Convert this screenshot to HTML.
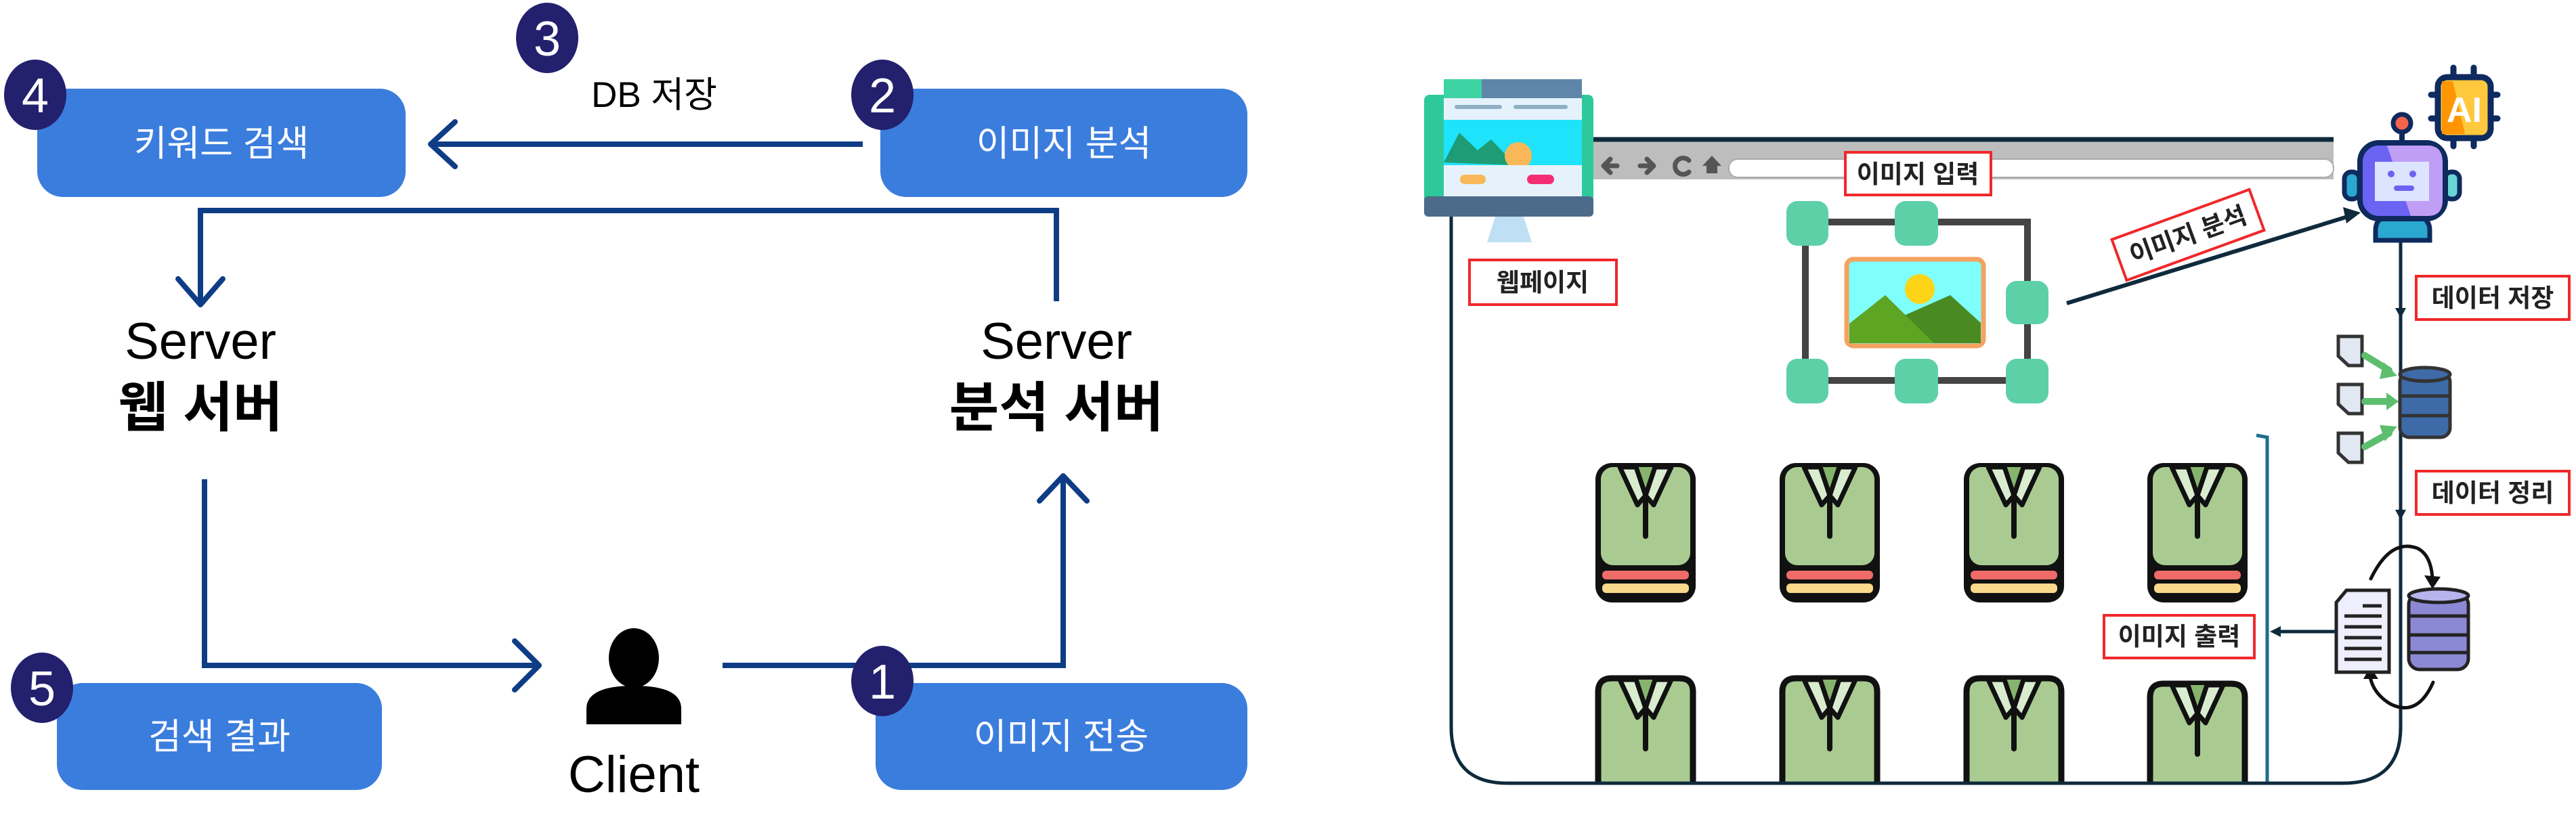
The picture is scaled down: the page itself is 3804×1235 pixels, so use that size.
<!DOCTYPE html>
<html><head><meta charset="utf-8">
<style>
html,body{margin:0;padding:0;background:#fff;}
svg{display:block;}
text{font-family:"Liberation Sans","Noto Sans CJK KR",sans-serif;}
</style></head>
<body>
<svg width="3804" height="1235" viewBox="0 0 3804 1235" xmlns="http://www.w3.org/2000/svg">

<!-- ========== LEFT DIAGRAM ========== -->
<g fill="none" stroke="#0F3D85" stroke-width="8">
  <polyline points="1274,213 640,213"/>
  <polyline points="672,180 636,213 672,246" stroke-linejoin="round" stroke-linecap="round"/>
  <polyline points="1560,445 1560,311 296,311 296,448"/>
  <polyline points="263,412 296,450 329,412" stroke-linejoin="round" stroke-linecap="round"/>
  <polyline points="302,708 302,983 794,983"/>
  <polyline points="760,947 796,983 760,1019" stroke-linejoin="round" stroke-linecap="round"/>
  <polyline points="1067,983 1570,983 1570,705"/>
  <polyline points="1535,740 1570,703 1605,740" stroke-linejoin="round" stroke-linecap="round"/>
</g>

<rect x="55" y="131" width="544" height="160" rx="38" fill="#3B7DDD"/>
<text x="327" y="230" font-size="53" fill="#fff" text-anchor="middle">키워드 검색</text>
<rect x="1300" y="131" width="542" height="160" rx="38" fill="#3B7DDD"/>
<text x="1571" y="230" font-size="53" fill="#fff" text-anchor="middle">이미지 분석</text>
<rect x="84" y="1009" width="480" height="158" rx="38" fill="#3B7DDD"/>
<text x="324" y="1106" font-size="53" fill="#fff" text-anchor="middle">검색 결과</text>
<rect x="1293" y="1009" width="549" height="158" rx="38" fill="#3B7DDD"/>
<text x="1567" y="1106" font-size="53" fill="#fff" text-anchor="middle">이미지 전송</text>

<g fill="#23206E">
  <ellipse cx="52" cy="140" rx="46" ry="52"/>
  <ellipse cx="808" cy="56" rx="46" ry="52"/>
  <ellipse cx="1303" cy="140" rx="46" ry="52"/>
  <ellipse cx="62" cy="1016" rx="46" ry="52"/>
  <ellipse cx="1303" cy="1006" rx="46" ry="52"/>
</g>
<g fill="#fff" font-size="72" text-anchor="middle">
  <text x="52" y="166">4</text>
  <text x="808" y="82">3</text>
  <text x="1303" y="166">2</text>
  <text x="62" y="1042">5</text>
  <text x="1303" y="1032">1</text>
</g>

<text x="966" y="158" font-size="53" fill="#000" text-anchor="middle">DB 저장</text>
<text x="296" y="530" font-size="76" fill="#000" text-anchor="middle">Server</text>
<text x="296" y="630" font-size="80" fill="#000" text-anchor="middle" font-weight="bold">웹 서버</text>
<text x="1560" y="530" font-size="76" fill="#000" text-anchor="middle">Server</text>
<text x="1560" y="630" font-size="80" fill="#000" text-anchor="middle" font-weight="bold">분석 서버</text>

<!-- client icon -->
<ellipse cx="936" cy="972" rx="37" ry="44" fill="#000"/>
<path d="M866,1070 L866,1047 Q866,1013 936,1013 Q1006,1013 1006,1047 L1006,1070 Z" fill="#000"/>
<text x="936" y="1170" font-size="76" fill="#000" text-anchor="middle">Client</text>

<!-- ========== RIGHT DIAGRAM ========== -->
<path d="M2143,320 L2143,1074 Q2143,1157 2226,1157 L3460,1157 Q3545,1157 3545,1074 L3545,345" fill="none" stroke="#0E2A3C" stroke-width="5"/>

<!-- browser bar -->
<rect x="2352" y="209" width="1094" height="56" fill="#BDBDBD"/>
<line x1="2352" y1="206" x2="3446" y2="206" stroke="#0E2A3C" stroke-width="7"/>
<rect x="2553" y="235" width="893" height="27" rx="13" fill="#fff" stroke="#aaa" stroke-width="2"/>
<g fill="none" stroke="#555" stroke-width="7" stroke-linecap="round" stroke-linejoin="round">
  <path d="M2388,245 L2368,245 M2378,235 L2368,245 L2378,255"/>
  <path d="M2422,245 L2442,245 M2432,235 L2442,245 L2432,255"/>
  <path d="M2494,237 A12,12 0 1 0 2494,254"/>
</g>
<path d="M2520,256 L2520,245 L2514,245 L2528,230 L2542,245 L2536,245 L2536,256 Z" fill="#555"/>

<!-- monitor icon -->
<rect x="2103" y="140" width="250" height="180" rx="8" fill="#2EC99A"/>
<rect x="2132" y="117" width="60" height="40" fill="#3ED3A3"/>
<rect x="2188" y="117" width="148" height="30" fill="#5E86A8"/>
<rect x="2132" y="145" width="204" height="32" fill="#E6F2FB"/>
<rect x="2148" y="155" width="70" height="6" rx="3" fill="#8FB0C4"/>
<rect x="2235" y="155" width="80" height="6" rx="3" fill="#8FB0C4"/>
<rect x="2132" y="177" width="204" height="67" fill="#1EE3FA"/>
<polygon points="2132,240 2155,196 2182,222 2202,206 2238,244" fill="#1E9C74"/>
<circle cx="2242" cy="230" r="20" fill="#F9B858"/>
<rect x="2132" y="244" width="204" height="46" fill="#E6F2FB"/>
<rect x="2156" y="258" width="38" height="14" rx="7" fill="#F9B858"/>
<rect x="2255" y="258" width="40" height="14" rx="7" fill="#F52E74"/>
<rect x="2103" y="290" width="250" height="30" rx="6" fill="#4C6B8A"/>
<polygon points="2208,320 2250,320 2262,358 2196,358" fill="#BFE0F4"/>

<!-- label boxes -->
<g fill="#fff" stroke="#F0282A" stroke-width="4">
  <rect x="2170" y="384" width="217" height="66"/>
  <rect x="2725" y="225" width="215" height="63"/>
  <rect x="3568" y="408" width="226" height="64"/>
  <rect x="3568" y="696" width="226" height="64"/>
  <rect x="3107" y="909" width="222" height="63"/>
</g>
<g font-size="37" fill="#222" text-anchor="middle" font-weight="bold">
  <text x="2278" y="430">웹페이지</text>
  <text x="2832" y="270">이미지 입력</text>
  <text x="3681" y="453">데이터 저장</text>
  <text x="3681" y="741">데이터 정리</text>
  <text x="3218" y="953">이미지 출력</text>
</g>

<!-- selection frame -->
<rect x="2666" y="328" width="328" height="234" fill="none" stroke="#444" stroke-width="10"/>
<g fill="#5DD0A8">
  <rect x="2638" y="297" width="62" height="66" rx="16"/>
  <rect x="2798" y="297" width="64" height="66" rx="16"/>
  <rect x="2962" y="415" width="63" height="64" rx="16"/>
  <rect x="2638" y="530" width="62" height="66" rx="16"/>
  <rect x="2798" y="530" width="64" height="66" rx="16"/>
  <rect x="2962" y="530" width="63" height="66" rx="16"/>
</g>
<rect x="2727" y="383" width="202" height="128" rx="10" fill="#7FFFFB" stroke="#F4A261" stroke-width="7"/>
<circle cx="2835" cy="427" r="22" fill="#FDD418"/>
<polygon points="2846,507 2812,466 2880,436 2925,477 2925,507" fill="#4A8A22"/>
<polygon points="2731,507 2731,478 2784,436 2856,507" fill="#5DA523"/>

<!-- arrow to robot -->
<line x1="3052" y1="448" x2="3470" y2="319" stroke="#0E2A3C" stroke-width="6"/>
<polygon points="3486,314 3460,306 3465,330" fill="#0E2A3C"/>
<g transform="translate(3231,347) rotate(-20)">
  <rect x="-108" y="-32" width="216" height="64" fill="#fff" stroke="#F0282A" stroke-width="4"/>
  <text x="0" y="13" font-size="37" fill="#222" text-anchor="middle" font-weight="bold">이미지 분석</text>
</g>

<!-- AI chip -->
<g stroke="#0E2A5E" stroke-width="9" stroke-linecap="round">
  <line x1="3623" y1="100" x2="3623" y2="118"/><line x1="3653" y1="100" x2="3653" y2="118"/>
  <line x1="3623" y1="200" x2="3623" y2="216"/><line x1="3653" y1="200" x2="3653" y2="216"/>
  <line x1="3590" y1="140" x2="3600" y2="140"/><line x1="3590" y1="175" x2="3600" y2="175"/>
  <line x1="3678" y1="140" x2="3688" y2="140"/><line x1="3678" y1="175" x2="3688" y2="175"/>
</g>
<rect x="3600" y="114" width="78" height="90" rx="14" fill="#FFC83D" stroke="#0E2A5E" stroke-width="9"/>
<polygon points="3606,120 3622,120 3640,198 3606,198" fill="#FF9500"/>
<text x="3639" y="180" font-size="52" fill="#fff" text-anchor="middle" font-weight="bold">AI</text>

<!-- robot -->
<line x1="3547" y1="192" x2="3547" y2="214" stroke="#0E2A5E" stroke-width="8"/>
<circle cx="3547" cy="182" r="13" fill="#F4644B" stroke="#0E2A5E" stroke-width="7"/>
<rect x="3462" y="254" width="22" height="40" rx="10" fill="#2AA8D0" stroke="#0E2A5E" stroke-width="7"/>
<rect x="3610" y="254" width="22" height="40" rx="10" fill="#6AD5D5" stroke="#0E2A5E" stroke-width="7"/>
<path d="M3508,355 L3508,340 Q3508,315 3547,315 Q3588,315 3588,340 L3588,355 Z" fill="#2AA8D0" stroke="#0E2A5E" stroke-width="7"/>
<rect x="3485" y="211" width="126" height="112" rx="28" fill="#6B63F2" stroke="#0E2A5E" stroke-width="8"/>
<path d="M3525,215 L3585,215 Q3607,215 3607,240 L3607,296 Q3607,319 3585,319 L3560,319 Z" fill="#C09EF5"/>
<rect x="3507" y="239" width="80" height="58" fill="#DCE4FF"/>
<circle cx="3531" cy="257" r="5" fill="#6B63F2"/><circle cx="3563" cy="257" r="5" fill="#6B63F2"/>
<rect x="3535" y="274" width="30" height="8" rx="4" fill="#6B63F2"/>

<!-- vertical line from robot -->
<line x1="3545" y1="360" x2="3545" y2="1076" stroke="#0E2A3C" stroke-width="5"/>
<polygon points="3537,455 3553,455 3545,470" fill="#0E2A3C"/>
<polygon points="3537,753 3553,753 3545,768" fill="#0E2A3C"/>

<!-- files -> db -->
<g stroke="#333" stroke-width="5" fill="#E2E8F2">
  <path d="M3453,497 L3488,497 L3488,540 L3468,540 L3453,526 Z"/>
  <path d="M3453,568 L3488,568 L3488,611 L3468,611 L3453,597 Z"/>
  <path d="M3453,640 L3488,640 L3488,683 L3468,683 L3453,669 Z"/>
</g>
<g stroke="#5DBE6E" stroke-width="10" fill="none" stroke-linecap="round">
  <line x1="3492" y1="525" x2="3528" y2="547"/>
  <line x1="3492" y1="593" x2="3530" y2="593"/>
  <line x1="3492" y1="660" x2="3528" y2="640"/>
</g>
<g fill="#5DBE6E">
  <polygon points="3520,535 3540,555 3514,560"/>
  <polygon points="3524,580 3542,593 3524,606"/>
  <polygon points="3514,628 3540,630 3522,652"/>
</g>
<rect x="3544" y="550" width="74" height="96" rx="14" fill="#3E6BA8" stroke="#333" stroke-width="5"/>
<ellipse cx="3581" cy="553" rx="37" ry="10" fill="#3E6BA8" stroke="#333" stroke-width="5"/>
<line x1="3544" y1="585" x2="3618" y2="585" stroke="#333" stroke-width="5"/>
<line x1="3544" y1="614" x2="3618" y2="614" stroke="#333" stroke-width="5"/>

<!-- doc & db cycle -->
<g fill="none" stroke="#111" stroke-width="5" stroke-linecap="round">
  <path d="M3501,855 Q3530,795 3570,810 Q3590,820 3592,855"/>
  <path d="M3593,1008 Q3570,1060 3530,1040 Q3505,1025 3500,1000"/>
</g>
<polygon points="3580,850 3604,852 3592,870" fill="#111"/>
<polygon points="3490,1003 3512,1003 3500,985" fill="#111"/>
<path d="M3450,890 L3465,872 L3528,872 L3528,993 L3450,993 Z" fill="#EEEEFC" stroke="#222" stroke-width="5"/>
<g stroke="#222" stroke-width="5">
  <line x1="3489" y1="895" x2="3517" y2="895"/><line x1="3462" y1="910" x2="3517" y2="910"/>
  <line x1="3462" y1="926" x2="3517" y2="926"/><line x1="3462" y1="942" x2="3517" y2="942"/>
  <line x1="3462" y1="958" x2="3517" y2="958"/><line x1="3462" y1="974" x2="3517" y2="974"/>
</g>
<rect x="3557" y="877" width="88" height="112" rx="16" fill="#8C89D4" stroke="#222" stroke-width="5"/>
<ellipse cx="3601" cy="880" rx="44" ry="10" fill="#B6B4EC" stroke="#222" stroke-width="5"/>
<g stroke="#222" stroke-width="5">
  <line x1="3557" y1="910" x2="3645" y2="910"/><line x1="3557" y1="938" x2="3645" y2="938"/><line x1="3557" y1="964" x2="3645" y2="964"/>
</g>

<!-- output bracket -->
<path d="M3332,643 L3348,646 L3348,1157" fill="none" stroke="#1E6E8E" stroke-width="5"/>
<line x1="3450" y1="933" x2="3360" y2="933" stroke="#0E2A3C" stroke-width="5"/>
<polygon points="3352,933 3368,925 3368,941" fill="#0E2A3C"/>

<!-- shirts row 1 -->
<g>
  <rect x="2356" y="684" width="148" height="206" rx="24" fill="#111"/>
  <rect x="2366" y="862" width="128" height="14" rx="6" fill="#F9D98A"/>
  <rect x="2366" y="843" width="128" height="13" rx="6" fill="#EE6B68"/>
  <rect x="2364" y="690" width="132" height="145" rx="18" fill="#A9CB91"/>
</g>
<g>
  <rect x="2628" y="684" width="148" height="206" rx="24" fill="#111"/>
  <rect x="2638" y="862" width="128" height="14" rx="6" fill="#F9D98A"/>
  <rect x="2638" y="843" width="128" height="13" rx="6" fill="#EE6B68"/>
  <rect x="2636" y="690" width="132" height="145" rx="18" fill="#A9CB91"/>
</g>
<g>
  <rect x="2900" y="684" width="148" height="206" rx="24" fill="#111"/>
  <rect x="2910" y="862" width="128" height="14" rx="6" fill="#F9D98A"/>
  <rect x="2910" y="843" width="128" height="13" rx="6" fill="#EE6B68"/>
  <rect x="2908" y="690" width="132" height="145" rx="18" fill="#A9CB91"/>
</g>
<g>
  <rect x="3171" y="684" width="148" height="206" rx="24" fill="#111"/>
  <rect x="3181" y="862" width="128" height="14" rx="6" fill="#F9D98A"/>
  <rect x="3181" y="843" width="128" height="13" rx="6" fill="#EE6B68"/>
  <rect x="3179" y="690" width="132" height="145" rx="18" fill="#A9CB91"/>
</g>
<g stroke="#111" stroke-width="7" stroke-linejoin="round">
  <g transform="translate(2356,684)">
    <polygon points="40,6 108,6 74,48" fill="#86B46E" stroke="none"/>
    <polygon points="36,6 60,6 74,48 62,62" fill="#D9ECD0"/>
    <polygon points="112,6 88,6 74,48 86,62" fill="#D9ECD0"/>
    <line x1="74" y1="50" x2="74" y2="108" stroke-width="8" stroke-linecap="round"/>
  </g>
  <g transform="translate(2628,684)">
    <polygon points="40,6 108,6 74,48" fill="#86B46E" stroke="none"/>
    <polygon points="36,6 60,6 74,48 62,62" fill="#D9ECD0"/>
    <polygon points="112,6 88,6 74,48 86,62" fill="#D9ECD0"/>
    <line x1="74" y1="50" x2="74" y2="108" stroke-width="8" stroke-linecap="round"/>
  </g>
  <g transform="translate(2900,684)">
    <polygon points="40,6 108,6 74,48" fill="#86B46E" stroke="none"/>
    <polygon points="36,6 60,6 74,48 62,62" fill="#D9ECD0"/>
    <polygon points="112,6 88,6 74,48 86,62" fill="#D9ECD0"/>
    <line x1="74" y1="50" x2="74" y2="108" stroke-width="8" stroke-linecap="round"/>
  </g>
  <g transform="translate(3171,684)">
    <polygon points="40,6 108,6 74,48" fill="#86B46E" stroke="none"/>
    <polygon points="36,6 60,6 74,48 62,62" fill="#D9ECD0"/>
    <polygon points="112,6 88,6 74,48 86,62" fill="#D9ECD0"/>
    <line x1="74" y1="50" x2="74" y2="108" stroke-width="8" stroke-linecap="round"/>
  </g>
</g>

<!-- shirts row 2 -->
<g stroke="#111" stroke-width="7" stroke-linejoin="round">
  <g transform="translate(2356,998)">
    <path d="M4,157 L4,24 Q4,4 24,4 L124,4 Q144,4 144,24 L144,157" fill="#A9CB91" stroke-width="9"/>
    <polygon points="40,6 108,6 74,48" fill="#86B46E" stroke="none"/>
    <polygon points="36,6 60,6 74,48 62,62" fill="#D9ECD0"/>
    <polygon points="112,6 88,6 74,48 86,62" fill="#D9ECD0"/>
    <line x1="74" y1="50" x2="74" y2="108" stroke-width="8" stroke-linecap="round"/>
  </g>
  <g transform="translate(2628,998)">
    <path d="M4,157 L4,24 Q4,4 24,4 L124,4 Q144,4 144,24 L144,157" fill="#A9CB91" stroke-width="9"/>
    <polygon points="40,6 108,6 74,48" fill="#86B46E" stroke="none"/>
    <polygon points="36,6 60,6 74,48 62,62" fill="#D9ECD0"/>
    <polygon points="112,6 88,6 74,48 86,62" fill="#D9ECD0"/>
    <line x1="74" y1="50" x2="74" y2="108" stroke-width="8" stroke-linecap="round"/>
  </g>
  <g transform="translate(2900,998)">
    <path d="M4,157 L4,24 Q4,4 24,4 L124,4 Q144,4 144,24 L144,157" fill="#A9CB91" stroke-width="9"/>
    <polygon points="40,6 108,6 74,48" fill="#86B46E" stroke="none"/>
    <polygon points="36,6 60,6 74,48 62,62" fill="#D9ECD0"/>
    <polygon points="112,6 88,6 74,48 86,62" fill="#D9ECD0"/>
    <line x1="74" y1="50" x2="74" y2="108" stroke-width="8" stroke-linecap="round"/>
  </g>
  <g transform="translate(3171,1006)">
    <path d="M4,149 L4,24 Q4,4 24,4 L124,4 Q144,4 144,24 L144,149" fill="#A9CB91" stroke-width="9"/>
    <polygon points="40,6 108,6 74,48" fill="#86B46E" stroke="none"/>
    <polygon points="36,6 60,6 74,48 62,62" fill="#D9ECD0"/>
    <polygon points="112,6 88,6 74,48 86,62" fill="#D9ECD0"/>
    <line x1="74" y1="50" x2="74" y2="108" stroke-width="8" stroke-linecap="round"/>
  </g>
</g>
<line x1="2226" y1="1157" x2="3460" y2="1157" stroke="#0E2A3C" stroke-width="5"/>
</svg>
</body></html>
